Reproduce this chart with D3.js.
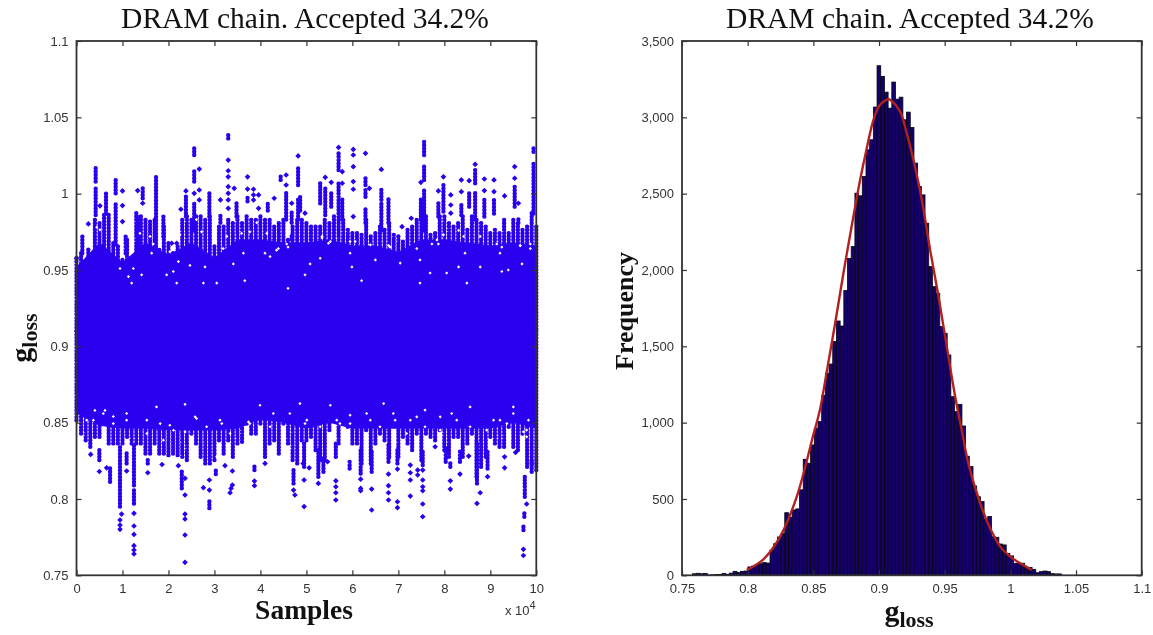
<!DOCTYPE html>
<html>
<head>
<meta charset="utf-8">
<script src="https://cdn.jsdelivr.net/npm/d3@7"></script>
<style>
  html, body { margin: 0; padding: 0; background: #fff; }
  svg { display: block; filter: blur(0.4px); }
  .tick text { font-family: "Liberation Sans", Arial, sans-serif; font-size: 13px; fill: #333; }
  .tick line { stroke: #333; stroke-width: 1.2; }
  .domain { display: none; }
  .title { font-family: "Liberation Serif", serif; font-size: 29.5px; fill: #111; text-anchor: middle; }
  .lab { font-family: "Liberation Serif", serif; font-weight: bold; fill: #111; text-anchor: middle; }
</style>
</head>
<body>
<div id="chart"></div>
<script>
// ---- data ----
var titleText = "DRAM chain. Accepted 34.2%";
var sampleTicks = [0, 1, 2, 3, 4, 5, 6, 7, 8, 9, 10];
var gTicks = [0.75, 0.8, 0.85, 0.9, 0.95, 1, 1.05, 1.1];
var freqTicks = [0, 500, 1000, 1500, 2000, 2500, 3000, 3500];

// solid part of the chain, samples in units of 10^4
var bandSamples = [0,0.5,1,1.5,2,2.5,3,3.5,4,4.5,5,5.5,6,6.5,7,7.5,8,8.5,9,9.5,10];
var bandHigh = [0.952,0.968,0.955,0.968,0.96,0.968,0.958,0.97,0.97,0.968,0.968,0.97,0.966,0.966,0.962,0.97,0.97,0.968,0.966,0.968,0.966];
var bandLow = [0.856,0.848,0.846,0.846,0.845,0.845,0.845,0.846,0.852,0.85,0.846,0.85,0.846,0.846,0.846,0.846,0.846,0.846,0.846,0.85,0.846];
var bandMiddle = 0.91;

// how far the points reach at each 0.1 of the sample axis
var fringeSamples = [0,0.1,0.2,0.3,0.4,0.5,0.6,0.7,0.8,0.9,1,1.1,1.2,1.3,1.4,1.5,1.6,1.7,1.8,1.9,2,2.1,2.2,2.3,2.4,2.5,2.6,2.7,2.8,2.9,3,3.1,3.2,3.3,3.4,3.5,3.6,3.7,3.8,3.9,4,4.1,4.2,4.3,4.4,4.5,4.6,4.7,4.8,4.9,
  5,5.1,5.2,5.3,5.4,5.5,5.6,5.7,5.8,5.9,6,6.1,6.2,6.3,6.4,6.5,6.6,6.7,6.8,6.9,7,7.1,7.2,7.3,7.4,7.5,7.6,7.7,7.8,7.9,8,8.1,8.2,8.3,8.4,8.5,8.6,8.7,8.8,8.9,9,9.1,9.2,9.3,9.4,9.5,9.6,9.7,9.8,9.9,10];
var fringeHigh = [0.9577,0.961,0.9545,0.9457,0.9828,0.9806,0.9861,0.9861,0.9675,0.9654,0.9566,0.9697,0.9523,0.9872,0.985,0.9828,0.9817,0.9828,0.9632,0.9784,0.9675,0.961,0.9654,0.9828,0.985,0.9828,0.985,0.985,0.9828,0.985,0.9654,0.9784,0.9784,0.9828,0.9806,0.985,0.9806,0.985,0.9828,0.9828,0.985,0.9828,0.9828,0.9784,0.9806,0.9828,0.9697,0.9784,0.9828,0.9828,
  0.9806,0.9784,0.9784,0.9784,0.9828,0.9806,0.985,0.9784,0.9828,0.9763,0.9741,0.9741,0.973,0.9828,0.9719,0.9741,0.9784,0.9763,0.9806,0.973,0.9719,0.9686,0.9763,0.9784,0.9828,0.9893,0.985,0.973,0.9741,0.985,0.985,0.9806,0.9784,0.9806,0.985,0.9763,0.985,0.9828,0.9806,0.9784,0.9741,0.9763,0.9741,0.9828,0.9741,0.9828,0.9806,0.9763,0.9784,0.9872,0.9784];
var fringeLow = [0.8516,0.8429,0.8385,0.8342,0.8407,0.8407,0.8516,0.8364,0.8364,0.8364,0.8364,0.8407,0.8364,0.8364,0.8364,0.8298,0.8298,0.8364,0.8298,0.8298,0.8287,0.8298,0.8287,0.8276,0.8255,0.8429,0.8364,0.8276,0.8233,0.8233,0.8255,0.8385,0.8298,0.8385,0.8276,0.8364,0.8375,0.8494,0.8429,0.8429,0.8494,0.8276,0.8364,0.8385,0.8298,0.8494,0.8364,0.8255,0.8233,0.8385,
  0.8385,0.8407,0.832,0.8255,0.8255,0.8451,0.8516,0.8364,0.8516,0.8473,0.8364,0.8364,0.8233,0.8451,0.8233,0.8364,0.8429,0.8385,0.8276,0.8516,0.8276,0.8407,0.8364,0.832,0.8429,0.8255,0.8429,0.8407,0.8385,0.8451,0.832,0.8276,0.8407,0.8407,0.8276,0.8364,0.8429,0.8146,0.8211,0.8276,0.8407,0.8364,0.8342,0.8342,0.8473,0.8342,0.832,0.8429,0.8211,0.8233,0.8189];

// solid runs of points above the band: sample, low, high
var upperStems = [[0.127,0.961,0.972],[0.257,0.946,0.965],[0.417,1.008,1.0177],[0.417,0.986,1.0035],[0.642,0.987,1.0002],[0.852,1.0002,1.01],[0.852,0.967,0.995],
  [1.069,0.961,0.972],[1.33,0.961,0.986],[1.44,0.997,1.0035],[1.73,0.961,1.011],[1.89,0.972,0.986],[2.38,0.985,0.998],[2.56,1.0253,1.0308],[2.56,1.008,1.0155],[2.56,0.976,0.994],
  [2.89,0.985,1.0002],[3.13,0.981,0.986],[3.3,1.0362,1.04],[3.48,0.985,0.994],[3.72,0.995,0.998],[4.16,0.989,0.994],[4.56,0.983,1.0013],[4.68,0.981,0.989],[4.68,0.97,0.974],
  [4.44,1.009,1.012],[4.82,1.0057,1.0166],[4.82,0.983,0.998],[4.864,0.989,0.998],[5.3,0.9937,1.0072],[5.41,0.986,1.0035],[5.54,0.9915,1.0013],[5.7,1.0155,1.0264],[5.7,0.9806,1.0079],
  [5.78,0.983,0.998],[6.285,1.0057,1.011],[6.285,0.998,1.0035],[6.285,0.981,0.9915],[6.63,0.996,1.0046],[6.63,0.976,0.9937],[6.785,0.981,0.997],[7.56,1.0253,1.0351],[7.56,1.009,1.0188],
  [7.56,0.976,1.0035],[7.49,0.983,0.996],[7.87,0.985,0.9937],[7.98,0.9883,1.0068],[8.37,0.986,0.9926],[8.54,0.9915,1.0013],[8.67,1.0068,1.0155],[8.67,0.983,1.0013],[8.87,0.985,0.9959],
  [9.08,0.987,0.9959],[9.53,0.9915,1.0046],[9.61,0.981,0.985],[9.94,1.0275,1.0297],[9.94,0.987,1.021]];

// and below it
var lowerStems = [[0.497,0.8255,0.832],[0.73,0.8113,0.82],[0.946,0.795,0.834],[1.09,0.8233,0.83],[1.25,0.809,0.8364],[1.25,0.797,0.806],[1.55,0.8233,0.8255],[2.29,0.807,0.819],
  [2.89,0.794,0.8004],[3.03,0.8163,0.819],[3.87,0.819,0.8233],[4.72,0.8102,0.819],[4.95,0.8211,0.8364],[5.26,0.8146,0.832],[5.37,0.8178,0.8276],[5.64,0.8276,0.8375],[5.94,0.82,0.8255],
  [6.18,0.8167,0.832],[6.42,0.8178,0.832],[6.785,0.8244,0.8364],[6.98,0.8233,0.832],[7.53,0.8222,0.832],[8.03,0.8244,0.8342],[8.13,0.8211,0.8244],[8.34,0.8244,0.832],[8.71,0.8102,0.8364],
  [8.94,0.82,0.832],[9.75,0.8015,0.8157],[9.74,0.7884,0.7906],[9.72,0.7797,0.784],[9.9,0.8178,0.8255]];

// single points that stand apart
var upperDotSamples = [0.004,0.257,1,1,1,1.33,1.44,2.07,2.18,2.27,2.38,2.56,2.67,2.67,2.67,3.13,3.3,3.3,3.3,3.3,3.3,3.3,3.3,3.43,3.72,3.72,3.85,3.85,3.85,3.96,3.96,4.3,4.56,4.56,4.68,4.82,4.97,0.51,
  5.7,5.78,5.78,6.02,6.02,6.02,6.02,6.02,6.02,6.285,6.63,7.08,7.28,7.49,7.87,7.98,8.14,8.14,8.14,8.37,8.37,8.54,8.67,8.87,8.87,9.08,9.08,9.31,9.53,9.53,9.61,5.41,5.54,6.37];
var upperDotValues = [0.9577,0.9802,1.0018,0.9922,0.9817,1.002,0.9937,0.9675,0.9675,0.9898,1.0018,1.0002,1.0161,1.0024,0.9959,0.9959,1.022,1.015,1.011,1.0046,1.0002,0.9959,0.9904,1.0035,1.011,1.003,1.0029,0.9992,0.9959,0.9992,0.9904,0.997,1.0122,1.0057,0.9937,1.0247,0.9872,0.992,
  1.0303,1.0144,1.0068,1.029,1.0253,1.0177,1.0079,1.0029,0.985,1.0264,1.0159,0.9784,0.9839,1.0074,1.0018,1.011,0.9992,0.9926,0.9872,1.009,1.0013,1.0085,1.0192,1.0096,1.002,1.009,1.0013,0.9985,1.0177,1.0101,0.9937,1.0107,1.0074,1.0035];
var lowerDotSamples = [0.308,0.497,0.656,0.946,0.946,0.946,0.98,1.09,1.25,1.25,1.25,1.25,1.25,1.25,1.55,1.86,2.215,2.36,2.36,2.36,2.36,2.36,2.36,2.76,2.89,2.89,3.23,3.39,3.39,3.36,3.34,3.87,3.87,4.1,4.72,4.75,4.95,4.95,4.93,
  5.06,5.26,5.46,5.64,5.64,5.64,5.64,6.18,6.18,6.18,6.42,6.42,6.785,6.785,6.785,6.785,6.98,6.98,6.98,7.26,7.26,7.26,7.26,7.42,7.42,7.53,7.53,7.53,7.53,7.53,7.53,7.8,8.13,8.13,8.34,8.53,8.71,8.78,8.94,9.31,9.31,9.55,9.79,9.72,9.72];
var lowerDotValues = [0.8292,0.818,0.8204,0.7862,0.7829,0.7801,0.7901,0.8183,0.7906,0.7823,0.7768,0.7694,0.7666,0.764,0.8172,0.8226,0.8218,0.8135,0.8026,0.7901,0.7869,0.7764,0.7585,0.8074,0.8124,0.8058,0.8218,0.8183,0.8091,0.8069,0.8041,0.8117,0.8087,0.8233,0.8058,0.8026,0.8124,0.795,0.8233,
  0.8204,0.8102,0.8244,0.8119,0.808,0.8041,0.7993,0.813,0.8069,0.8054,0.8065,0.7928,0.8163,0.8087,0.8041,0.7993,0.8196,0.7982,0.7943,0.8222,0.8172,0.8124,0.8019,0.8189,0.8157,0.8189,0.8124,0.808,0.8054,0.7967,0.7884,0.8342,0.8119,0.8065,0.8163,0.8281,0.7971,0.8041,0.8146,0.8276,0.8204,0.8305,0.7967,0.767,0.763];

// white gaps left in the band
var gapSamples = [1.2,1.236,0.946,1.635,1.417,1.96,2.106,2.215,2.468,2.795,3.05,3.41,3.19,3.63,4.1,4.21,4.35,4.6,4.6,3.66,2.76,2.18,1.13,
  5.3,5.08,4.97,5.48,5.34,5.95,5.99,6.06,6.2,6.5,6.79,7.04,7.47,7.47,7.69,7.87,8.05,8.31,8.45,8.78,9.21,9.39,9.69,9.87,9.65,8.49,9.25,
  0.366,0.583,0.4,1.09,1.74,2.03,2.36,1.89,1.53,2.61,3.16,3.74,3.99,4.5,4.64,4.86,3.05,2.76,0.8,4.28,
  4.97,5.52,5.73,5.95,6.39,6.68,6.89,7.18,7.4,7.58,7.91,8.16,8.56,8.82,9.07,9.36,9.79,9.83,9.5,9.72,
  0.51,0.44,1.38,1.6,1.67,2.03,2.25,2.72,2.98,3.27,3.59,3.77,4.14,4.39,4.57,2.98,2.61,3.92,
  5.34,5.52,5.95,6.39,6.82,7.4,7.73,7.84,7.98,8.31,8.42,8.78,9.14,9.25,9.65,9.87,
  0.22,0.62,0.8,1.09,1.53,1.82,2.11,2.36,2.58,2.83,3.12,3.34,3.77,4.21,
  5.01,5.3,5.66,5.95,6.31,6.6,6.93,7.26,7.58,7.91,8.27,8.56,8.92,9.21,9.5,9.79];
var gapValues = [0.9414,0.951,0.951,0.961,0.9468,0.9468,0.949,0.9555,0.953,0.952,0.9414,0.954,0.964,0.961,0.961,0.9588,0.963,0.965,0.938,0.943,0.9414,0.9414,0.9457,
  0.9577,0.954,0.9468,0.9675,0.971,0.961,0.952,0.9686,0.943,0.9566,0.966,0.9545,0.9566,0.9414,0.948,0.967,0.948,0.952,0.961,0.952,0.961,0.95,0.954,0.964,0.966,0.9414,0.949,
  0.8516,0.856,0.858,0.8516,0.8603,0.8483,0.862,0.8385,0.8429,0.8527,0.8494,0.8505,0.8614,0.8451,0.856,0.8625,0.8276,0.8178,0.8494,0.856,
  0.8494,0.8614,0.8494,0.8549,0.8516,0.8625,0.856,0.8429,0.8538,0.8582,0.8538,0.856,0.8603,0.8146,0.8516,0.8494,0.8407,0.8516,0.8603,0.844,
  0.9763,0.978,0.974,0.972,0.967,0.962,0.973,0.975,0.973,0.972,0.974,0.975,0.974,0.964,0.967,0.978,0.983,0.981,
  0.972,0.9686,0.9686,0.9665,0.965,0.964,0.967,0.9697,0.973,0.976,0.972,0.972,0.967,0.965,0.966,0.967,
  0.8516,0.858,0.854,0.856,0.8516,0.8494,0.845,0.844,0.8538,0.8473,0.8516,0.8429,0.8494,0.8473,
  0.8516,0.8473,0.8516,0.8494,0.856,0.8473,0.8516,0.8516,0.8473,0.8451,0.8516,0.8473,0.8451,0.8516,0.856,0.8451];

// histogram, 100 bins
var binStart = 0.758;
var binEnd = 1.039;
var binCounts = [10,13,10,12,2,3,5,6,12,7,14,26,18,26,28,55,60,70,76,83,80,164,207,251,273,
  410,380,428,435,560,760,734,854,964,1007,1180,1323,1384,1531,1666,1633,1865,2075,2153,2503,2486,2612,2787,2853,3067,
  3338,3268,3165,3060,3231,3119,3132,2984,3034,2933,2700,2547,2492,2306,2022,1891,1847,1629,1585,1443,1170,1072,1120,978,780,
  712,585,515,483,367,385,253,249,205,199,144,127,79,79,79,52,52,39,17,24,28,24,11,9,9];

// fitted curve
var fitX = [0.7993,0.812,0.8247,0.8374,0.85,0.855,0.86,0.8666,0.8729,0.8805,0.8856,0.8907,0.8958,0.9008,0.9072,0.9084,0.916,0.9211,0.9262,0.9326,0.9389,0.9453,0.9516,0.958,0.963,0.9681,0.977,0.9846,0.9923,0.9999,1.0075,1.0164];
var fitY = [35,105,253,516,920,1083,1323,1651,1979,2350,2590,2798,2984,3082,3119,3115,3038,2896,2722,2459,2132,1826,1498,1170,950,730,472,308,188,122,79,35];

// ---- layout ----
var svg = d3.select("#chart").append("svg")
  .attr("width", 1153)
  .attr("height", 635);

var top_ = 41, bottom = 575.3;
var blue = "#2a00ee";

var yG = d3.scaleLinear().domain([0.75, 1.1]).range([bottom, top_]);
var xS = d3.scaleLinear().domain([0, 10]).range([76.5, 536.3]);
var xG = d3.scaleLinear().domain([0.75, 1.1]).range([682, 1141.7]);
var yF = d3.scaleLinear().domain([0, 3500]).range([bottom, top_]);

function fmtG(d) { return String(+d.toFixed(2)); }

// ---- left panel ----
var left = svg.append("g");

left.append("path")
  .datum(bandSamples)
  .attr("d", d3.area()
    .x(function(d) { return xS(d); })
    .y0(function(d, i) { return yG(bandLow[i]); })
    .y1(function(d, i) { return yG(bandHigh[i]); }))
  .style("fill", blue);

// columns of beads: zero length dashes with round caps
function beads(sel) {
  sel.style("stroke", blue)
    .style("stroke-width", 4.4)
    .style("stroke-linecap", "round")
    .style("stroke-dasharray", "0 3.3");
}

left.selectAll(".fringeUp")
  .data(fringeSamples)
  .enter().append("line")
  .attr("class", "fringeUp")
  .attr("x1", function(d) { return xS(d); })
  .attr("x2", function(d) { return xS(d); })
  .attr("y1", function(d, i) { return yG(fringeHigh[i]); })
  .attr("y2", yG(bandMiddle))
  .call(beads);

left.selectAll(".fringeDown")
  .data(fringeSamples)
  .enter().append("line")
  .attr("class", "fringeDown")
  .attr("x1", function(d) { return xS(d); })
  .attr("x2", function(d) { return xS(d); })
  .attr("y1", function(d, i) { return yG(fringeLow[i]); })
  .attr("y2", yG(bandMiddle))
  .call(beads);

left.selectAll(".stem")
  .data(upperStems.concat(lowerStems))
  .enter().append("line")
  .attr("class", "stem")
  .attr("x1", function(d) { return xS(d[0]); })
  .attr("x2", function(d) { return xS(d[0]); })
  .attr("y1", function(d) { return yG(d[1]); })
  .attr("y2", function(d) { return yG(d[2]); })
  .call(beads);

var dotSamples = upperDotSamples.concat(lowerDotSamples);
var dotValues = upperDotValues.concat(lowerDotValues);
var diamond = d3.symbol().type(d3.symbolSquare).size(16);

left.selectAll(".dot")
  .data(dotSamples)
  .enter().append("path")
  .attr("class", "dot")
  .attr("d", diamond)
  .attr("transform", function(d, i) {
    return "translate(" + xS(d) + "," + yG(dotValues[i]) + ") rotate(45)";
  })
  .style("fill", blue);

left.selectAll(".gap")
  .data(gapSamples)
  .enter().append("path")
  .attr("class", "gap")
  .attr("d", d3.symbol().type(d3.symbolSquare).size(5))
  .attr("transform", function(d, i) {
    return "translate(" + xS(d) + "," + yG(gapValues[i]) + ") rotate(45)";
  })
  .style("fill", "#fff");

// ---- right panel ----
var right = svg.append("g");
var binW = (xG(binEnd) - xG(binStart)) / binCounts.length;

right.selectAll(".bar")
  .data(binCounts)
  .enter().append("rect")
  .attr("class", "bar")
  .attr("x", function(d, i) { return xG(binStart) + i * binW; })
  .attr("y", function(d) { return yF(d); })
  .attr("width", binW)
  .attr("height", function(d) { return bottom - yF(d); })
  .style("fill", "#16006e")
  .style("stroke", "#050510")
  .style("stroke-width", 0.8);

right.append("path")
  .datum(fitX)
  .attr("d", d3.line()
    .curve(d3.curveCatmullRom)
    .x(function(d) { return xG(d); })
    .y(function(d, i) { return yF(fitY[i]); }))
  .style("fill", "none")
  .style("stroke", "#b3201f")
  .style("stroke-width", 2.4);

// ---- axes, ticks point inward on all four sides ----
function box(xScale, yScale, xTicks, yTicks, xFmt, yFmt) {
  var x0 = xScale.range()[0], x1 = xScale.range()[1];
  svg.append("g").attr("transform", "translate(0," + bottom + ")")
    .call(d3.axisBottom(xScale).tickValues(xTicks).tickFormat(xFmt).tickSizeInner(-5).tickSizeOuter(0).tickPadding(8));
  svg.append("g").attr("transform", "translate(0," + top_ + ")")
    .call(d3.axisTop(xScale).tickValues(xTicks).tickFormat("").tickSizeInner(-5).tickSizeOuter(0));
  svg.append("g").attr("transform", "translate(" + x0 + ",0)")
    .call(d3.axisLeft(yScale).tickValues(yTicks).tickFormat(yFmt).tickSizeInner(-5).tickSizeOuter(0).tickPadding(8));
  svg.append("g").attr("transform", "translate(" + x1 + ",0)")
    .call(d3.axisRight(yScale).tickValues(yTicks).tickFormat("").tickSizeInner(-5).tickSizeOuter(0));
  svg.append("rect")
    .attr("x", x0).attr("y", top_)
    .attr("width", x1 - x0).attr("height", bottom - top_)
    .style("fill", "none")
    .style("stroke", "#333")
    .style("stroke-width", 1.8);
}

box(xS, yG, sampleTicks, gTicks, d3.format("d"), fmtG);
box(xG, yF, gTicks, freqTicks, fmtG, d3.format(","));

// ---- titles and labels ----
svg.append("text").attr("class", "title").attr("x", 305).attr("y", 28).text(titleText);
svg.append("text").attr("class", "title").attr("x", 910).attr("y", 28).text(titleText);

svg.append("text").attr("class", "lab")
  .attr("x", 304).attr("y", 619)
  .style("font-size", "27.5px")
  .text("Samples");

svg.append("text").attr("class", "lab")
  .attr("transform", "translate(633,311) rotate(-90)")
  .style("font-size", "26px")
  .text("Frequency");

function gloss(sel) {
  sel.append("tspan").text("g").style("font-size", "30px");
  sel.append("tspan").text("loss").attr("dy", 6).style("font-size", "22px");
}
svg.append("text").attr("class", "lab")
  .attr("x", 909).attr("y", 621)
  .call(gloss);
svg.append("text").attr("class", "lab")
  .attr("transform", "translate(31,338) rotate(-90)")
  .call(gloss);

// exponent under the x axis
var expo = svg.append("text")
  .attr("x", 505).attr("y", 615)
  .style("font-family", "\"Liberation Sans\", Arial, sans-serif")
  .style("font-size", "13px")
  .style("fill", "#333");
expo.append("tspan").text("x 10");
expo.append("tspan").text("4").attr("dy", -6).style("font-size", "11px");
</script>
</body>
</html>
